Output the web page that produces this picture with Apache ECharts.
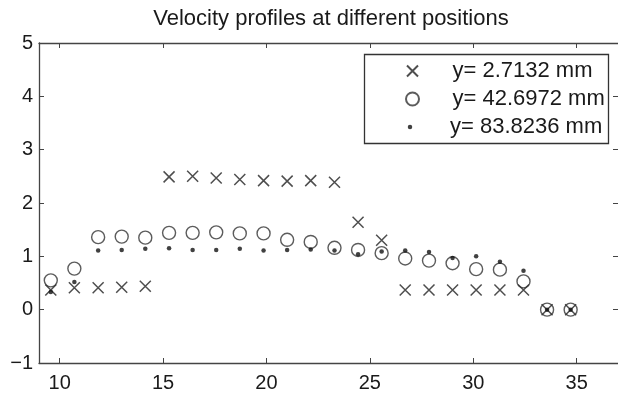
<!DOCTYPE html>
<html>
<head>
<meta charset="utf-8">
<script src="https://cdn.jsdelivr.net/npm/echarts@6/dist/echarts.min.js"></script>
<style>
  html, body { margin: 0; padding: 0; background: #fff; }
  #main { width: 618px; height: 396px; }
</style>
</head>
<body>
<div id="main"></div>
<script>
// positions along x (mm)
const xPos = [9.57, 10.71, 11.86, 13.00, 14.14, 15.29, 16.43, 17.57, 18.71, 19.86, 21.00, 22.14,
  23.29, 24.43, 25.57, 26.71, 27.86, 29.00, 30.14, 31.29, 32.43, 33.57, 34.71]
// velocity at y = 2.7132 mm
const velLow = [0.37, 0.41, 0.41, 0.42, 0.44, 2.49, 2.50, 2.47, 2.44, 2.42, 2.41, 2.42,
  2.39, 1.64, 1.30, 0.37, 0.37, 0.37, 0.37, 0.37, 0.37, 0, 0]
// velocity at y = 42.6972 mm
const velMid = [0.55, 0.77, 1.36, 1.37, 1.35, 1.44, 1.44, 1.45, 1.43, 1.43, 1.31, 1.27,
  1.16, 1.12, 1.06, 0.96, 0.92, 0.87, 0.76, 0.75, 0.53, 0, 0]
// velocity at y = 83.8236 mm
const velHigh = [0.33, 0.52, 1.11, 1.12, 1.14, 1.15, 1.12, 1.12, 1.14, 1.11, 1.12, 1.13,
  1.11, 1.04, 1.09, 1.11, 1.08, 0.97, 1.00, 0.90, 0.73, 0, 0]
const seriesNames = ['y= 2.7132 mm', 'y= 42.6972 mm', 'y= 83.8236 mm']

const font = 'Liberation Sans, Arial, Helvetica, sans-serif'
const ink = '#1a1a1a'
const lineCol = '#444'
const crossPath = 'path://M0,0L10,10M10,0L0,10'

const pairs = (ys) => xPos.map((x, i) => [x, ys[i]])

const myChart = echarts.init(document.getElementById('main'))

const axisBase = {
  type: 'value',
  splitLine: { show: false },
  axisLine: { show: true, onZero: false, lineStyle: { color: lineCol, width: 1.3 } },
  axisTick: { show: true, inside: true, length: 5, lineStyle: { color: lineCol, width: 1 } },
}

// legend icon ends up left-aligned, text follows 40px after icon centre
const legendBase = (name, h, top) => ({
  data: [name],
  left: 410 - h / 2,
  top: top,
  padding: 0,
  itemWidth: 70,
  itemHeight: h,
  selectedMode: false,
  symbolKeepAspect: true,
  textStyle: { fontFamily: font, fontSize: 22, color: ink },
})

myChart.setOption({
  animation: false,
  backgroundColor: '#fff',
  title: {
    text: 'Velocity profiles at different positions',
    left: 331,
    top: 8,
    padding: 0,
    textAlign: 'center',
    textStyle: { fontFamily: font, fontSize: 22, fontWeight: 'normal', color: ink },
  },
  grid: { left: 39, right: -2, top: 43, bottom: 33, containLabel: false },
  xAxis: [
    Object.assign({}, axisBase, {
      position: 'bottom',
      min: 9,
      max: 37,
      splitNumber: 5,
      axisLabel: {
        fontFamily: font, fontSize: 20, color: ink, margin: 10,
        showMinLabel: false, showMaxLabel: false,
      },
    }),
    Object.assign({}, axisBase, {
      position: 'top',
      min: 9,
      max: 37,
      splitNumber: 5,
      axisLabel: { show: false },
    }),
  ],
  yAxis: [
    Object.assign({}, axisBase, {
      position: 'left',
      min: -1,
      max: 5,
      interval: 1,
      axisLabel: {
        fontFamily: font, fontSize: 20, color: ink, margin: 6,
        formatter: (v) => String(v).replace('-', '\u2212'),
      },
    }),
    Object.assign({}, axisBase, {
      position: 'right',
      min: -1,
      max: 5,
      interval: 1,
      // right spine sits just past the picture edge, only the ticks show
      axisLine: { show: false, onZero: false },
      axisLabel: { show: false },
    }),
  ],
  legend: [
    legendBase(seriesNames[0], 11, 60),
    legendBase(seriesNames[1], 13, 88),
    legendBase(seriesNames[2], 4.5, 116),
  ],
  graphic: [{
    type: 'rect',
    z: 3,
    shape: { x: 364.5, y: 54.5, width: 244, height: 89 },
    style: { fill: '#fff', stroke: '#333', lineWidth: 1.3 },
  }],
  series: [
    {
      name: seriesNames[0],
      type: 'scatter',
      symbol: crossPath,
      symbolSize: 11,
      symbolKeepAspect: true,
      data: pairs(velLow),
      itemStyle: { color: 'none', borderColor: '#222', borderWidth: 1.5 },
    },
    {
      name: seriesNames[1],
      type: 'scatter',
      symbol: 'circle',
      symbolSize: 13,
      data: pairs(velMid),
      itemStyle: { color: 'none', borderColor: '#333', borderWidth: 1.4 },
    },
    {
      name: seriesNames[2],
      type: 'scatter',
      symbol: 'circle',
      symbolSize: 4.5,
      data: pairs(velHigh),
      itemStyle: { color: '#111', borderWidth: 0 },
    },
  ],
})
</script>
</body>
</html>
